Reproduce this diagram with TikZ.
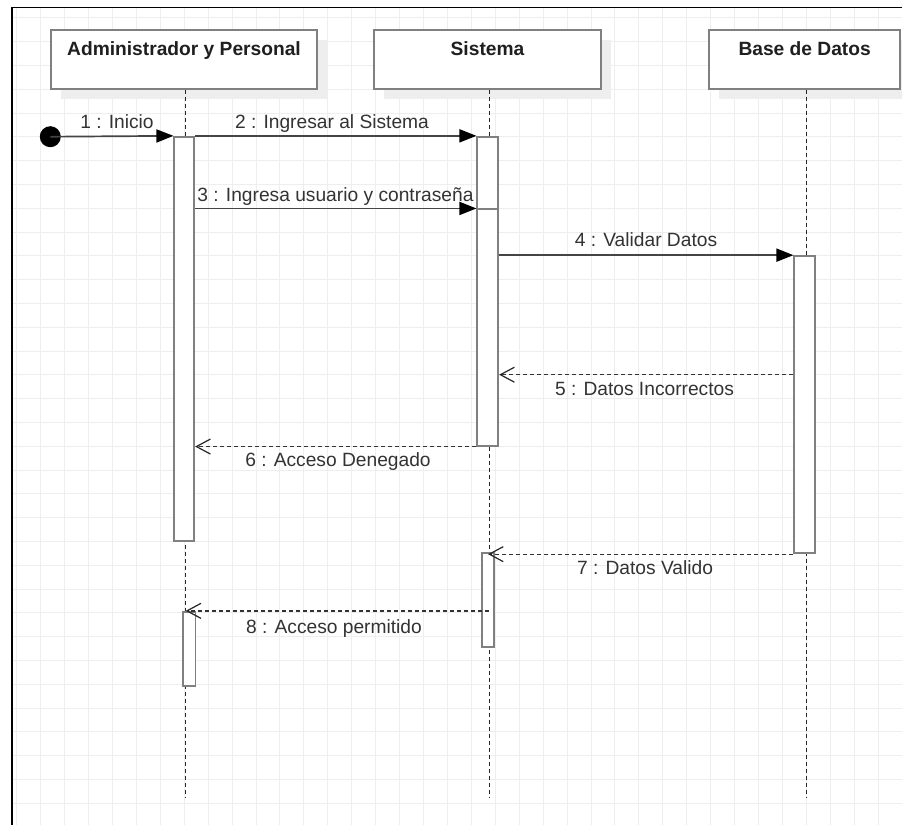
\documentclass[tikz,border=0pt]{standalone}
\usepackage{fontspec}
\setmainfont{Liberation Sans}
\usetikzlibrary{arrows.meta}
\definecolor{boxgray}{HTML}{808080}
\definecolor{linegray}{HTML}{444444}
\definecolor{txtc}{HTML}{333333}
\definecolor{gridc}{HTML}{EEEEEE}
\definecolor{shadowc}{HTML}{EEEEEE}
\begin{document}
\begin{tikzpicture}[x=1pt,y=-1pt,
  hdr/.style={draw=boxgray, line width=1.7pt, fill=white, rectangle, inner sep=0pt},
  hdrtxt/.style={anchor=base, inner sep=0pt, text=black!88, font=\fontsize{19.2}{23}\selectfont\bfseries},
  lbl/.style={anchor=base, inner sep=0pt, text=txtc, font=\fontsize{19.2}{23}\selectfont},
  act/.style={draw=boxgray, line width=1.7pt, fill=white, rectangle, inner sep=0pt},
  life/.style={draw=black!85, line width=1pt, dash pattern=on 4pt off 3pt},
  msg/.style={draw=linegray, line width=1.7pt, -{Triangle[length=17pt,width=13pt,color=black]}},
  ret/.style={draw=black!80, line width=1.3pt, dash pattern=on 4pt off 3pt, -{Straight Barb[length=14pt,width=15pt,line width=1.2pt,color=black!85]}},
  startdot/.style={circle, fill=black, inner sep=0pt, minimum size=21pt}
]
\useasboundingbox (0,0) rectangle (902,825);
\fill[white] (0,0) rectangle (902,825);
% grid
\begin{scope}
\clip (12,7) rectangle (902,825);
\foreach \i in {0,...,37} \draw[gridc, line width=1pt] ({16.7+23.93*\i},7) -- ({16.7+23.93*\i},825);
\foreach \j in {0,...,34} \draw[gridc, line width=1pt] (12,{17.9+23.8*\j}) -- (902,{17.9+23.8*\j});
\end{scope}
% frame
\draw[black, line width=1.5pt] (902,7.3) -- (12,7.3) -- (12,825);
% header shadows
\begin{scope}
\clip (0,0) rectangle (902,825);
\fill[shadowc] (61,40) rectangle (327,98.7);
\fill[shadowc] (384,40) rectangle (611,98.7);
\fill[shadowc] (719.3,40) rectangle (910,98.7);
\end{scope}
% headers
\node[hdr, minimum width=266pt, minimum height=58.7pt] (adm) at (184,59.35) {};
\node[hdr, minimum width=227pt, minimum height=58.7pt] (sis) at (487.5,59.35) {};
\node[hdr, minimum width=190.7pt, minimum height=58.7pt] (bd) at (804.65,59.35) {};
\node[hdrtxt] (admT) at (184,55) {Administrador y Personal};
\node[hdrtxt] (sisT) at (487.5,55) {Sistema};
\node[hdrtxt] (bdT) at (804.65,55) {Base de Datos};
% lifelines
\coordinate (admL) at (185.7,89.5);
\coordinate (admE) at (185.7,797);
\coordinate (sisL) at (489,89.5);
\coordinate (sisE) at (489,797);
\coordinate (bdL) at (806,89.5);
\coordinate (bdE) at (806,797);
\draw[life] (admL) -- (admE);
\draw[life] (sisL) -- (sisE);
\draw[life] (bdL) -- (bdE);
% activations
\node[act, minimum width=20pt, minimum height=404pt] (a1) at (184.3,338.7) {};
\node[act, minimum width=21pt, minimum height=309pt] (s1) at (487.8,291.2) {};
\node[act, minimum width=21pt, minimum height=236.4pt] (s2) at (487.8,327.5) {};
\node[act, minimum width=20.7pt, minimum height=297.3pt] (d1) at (804.65,404.65) {};
\node[act, minimum width=12.6pt, minimum height=94pt] (s3) at (488,599.7) {};
\node[act, minimum width=12.6pt, minimum height=74pt] (a2) at (189.3,648.7) {};
% start
\node[startdot] (start) at (50.3,136.7) {};
% messages
\coordinate (y5) at (0,374.7);
\draw[msg] (start.center) -- (a1.north west);
\draw[msg] (a1.north east) -- (s1.north west);
\draw[msg] (a1.east |- s2.north) -- (s2.north west);
\draw[msg] (s2.east |- d1.north) -- (d1.north west);
\draw[ret] (d1.west |- y5) -- (s2.east |- y5);
\draw[ret] (s2.south west) -- (a1.east |- s2.south);
\draw[ret] (d1.south west) -- (s3.north |- d1.south);
\draw[ret] (sisL |- a2.north) -- (admL |- a2.north);
% labels
\node[lbl] (l1) at (117,128) {1 : Inicio};
\node[lbl] (l2) at (332,128) {2 : Ingresar al Sistema};
\node[lbl] (l3) at (335.5,201.3) {3 : Ingresa usuario y contraseña};
\node[lbl] (l4) at (646,246.7) {4 : Validar Datos};
\node[lbl] (l5) at (644.5,395.7) {5 : Datos Incorrectos};
\node[lbl] (l6) at (338,466) {6 : Acceso Denegado};
\node[lbl] (l7) at (645,574) {7 : Datos Valido};
\node[lbl] (l8) at (334,633.3) {8 : Acceso permitido};
\end{tikzpicture}
\end{document}
